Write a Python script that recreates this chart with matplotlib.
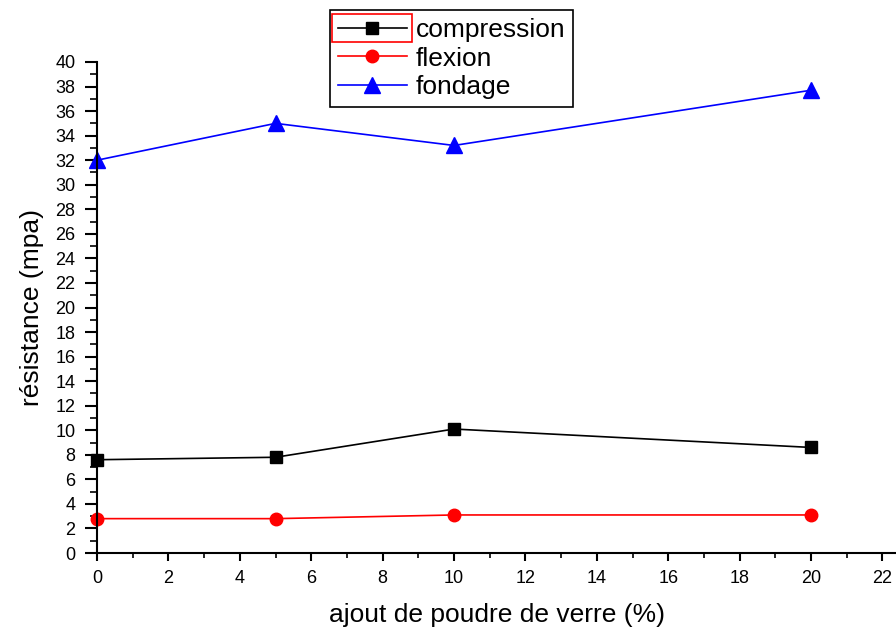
import matplotlib.pyplot as plt
from matplotlib.patches import Rectangle
from matplotlib.ticker import MultipleLocator

plt.rcParams['font.family'] = ['Liberation Sans', 'DejaVu Sans']

# data
verre = [0, 5, 10, 20]
compression = [7.6, 7.8, 10.1, 8.6]
flexion = [2.8, 2.8, 3.1, 3.1]
fondage = [32.0, 35.0, 33.2, 37.7]

fig = plt.figure(figsize=(8.96, 6.3), dpi=100)
ax = fig.add_axes([0.1083, 0.1222, 0.8917, 0.7794])

ax.plot(verre, compression, color='black', lw=1.2, marker='s', ms=8.5, label='compression')
ax.plot(verre, flexion, color='red', lw=1.2, marker='o', ms=9, label='flexion')
ax.plot(verre, fondage, color='blue', lw=1.2, marker='^', ms=11, label='fondage')

# axes
ax.set_xlim(0, 22.38)
ax.set_ylim(0, 40)
ax.xaxis.set_major_locator(MultipleLocator(2))
ax.xaxis.set_minor_locator(MultipleLocator(1))
ax.yaxis.set_major_locator(MultipleLocator(2))
ax.yaxis.set_minor_locator(MultipleLocator(1))
for s in ['top', 'right']:
    ax.spines[s].set_visible(False)
for s in ['left', 'bottom']:
    ax.spines[s].set_linewidth(1.5)
ax.tick_params(axis='y', which='major', direction='out', length=8.5, width=1.5, labelsize=13, pad=7)
ax.tick_params(axis='y', which='minor', direction='out', length=5, width=1.2)
ax.tick_params(axis='x', which='major', direction='out', length=6, width=1.5, labelsize=13, pad=6)
ax.tick_params(axis='x', which='minor', direction='out', length=3.6, width=1.2)
ax.set_xlabel('ajout de poudre de verre (%)', fontsize=19, labelpad=12)
ax.set_ylabel('résistance (mpa)', fontsize=19, labelpad=8)
for a in ax.get_children():
    a.set_clip_on(False)

leg = fig.legend(loc='upper left', bbox_to_anchor=(330 / 896, 1 - 10 / 630), fontsize=19,
                 handlelength=2.6, handletextpad=0.35, labelspacing=0.18, borderpad=0.3,
                 borderaxespad=0, fancybox=False, edgecolor='black', framealpha=1)
leg.get_frame().set_linewidth(1.2)

# red selection box round the first legend sample
fig.canvas.draw()
bb = leg.get_lines()[0].get_window_extent(fig.canvas.get_renderer())
cy = (bb.y0 + bb.y1) / 2
fig.add_artist(Rectangle((bb.x0, cy - 14), bb.width, 28, transform=None,
                         fill=False, edgecolor='red', lw=1.2, zorder=10))

fig.savefig('out.png', dpi=100)
